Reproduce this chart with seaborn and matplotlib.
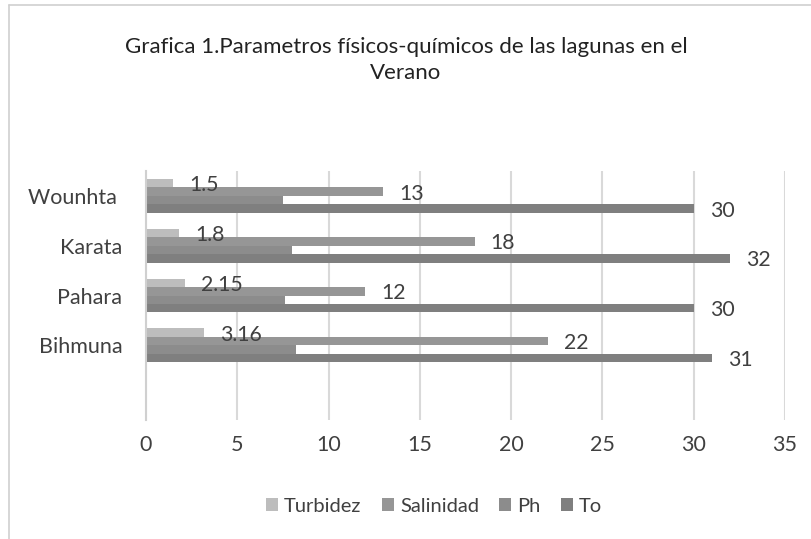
import matplotlib
matplotlib.use("Agg")
import matplotlib.pyplot as plt
import seaborn as sns
import pandas as pd
from matplotlib.lines import Line2D
from matplotlib.patches import Patch

# ---- data ----
lagunas = ["Wounhta ", "Karata", "Pahara", "Bihmuna"]
series = ["Turbidez", "Salinidad", "Ph", "To"]
turbidez = [1.5, 1.8, 2.15, 3.16]
salinidad = [13, 18, 12, 22]
ph = [7.5, 8.0, 7.6, 8.2]
temperatura = [30, 32, 30, 31]
x_ticks = [0, 5, 10, 15, 20, 25, 30, 35]
title = "Grafica 1.Parametros físicos-químicos de las lagunas en el\nVerano"

colors = ["#bdbdbd", "#969696", "#8c8c8c", "#7f7f7f"]
labelled = {"Turbidez": True, "Salinidad": True, "Ph": False, "To": True}

rows = []
for name, vals in zip(series, [turbidez, salinidad, ph, temperatura]):
    for lag, v in zip(lagunas, vals):
        rows.append({"Laguna": lag, "Serie": name, "Valor": v})
df = pd.DataFrame(rows)

sns.set_theme(style="white")
plt.rcParams["font.family"] = ["Lato", "DejaVu Sans"]
text_color = "#404040"

fig = plt.figure(figsize=(8.12, 5.39), dpi=100)
ax = fig.add_axes([146 / 812, 1 - 420 / 539, (785 - 146) / 812, (420 - 171) / 539])

sns.barplot(data=df, y="Laguna", x="Valor", hue="Serie", order=lagunas,
            hue_order=series, palette=colors, orient="h", width=0.68,
            linewidth=0, ax=ax, legend=False)

ax.set_xlim(0, 35)
ax.set_ylim(4.5, -0.5)
ax.set_xticks(x_ticks)
ax.set_xticklabels([str(t) for t in x_ticks])
ax.set_xlabel("")
ax.set_ylabel("")
ax.grid(axis="x", color="#d9d9d9", linewidth=1.5)
ax.grid(axis="y", visible=False)
ax.set_axisbelow(True)
for s in ["top", "right", "bottom"]:
    ax.spines[s].set_visible(False)
ax.spines["left"].set_color("#d0d0d0")
ax.spines["left"].set_linewidth(1.5)
ax.tick_params(axis="x", length=0, pad=11, labelsize=15.5, labelcolor=text_color)
ax.tick_params(axis="y", length=0, pad=17, labelsize=15.5, labelcolor=text_color)

# data labels
for cont, name in zip(ax.containers, series):
    if not labelled[name]:
        continue
    for bar in cont:
        w = bar.get_width()
        yc = bar.get_y() + bar.get_height() / 2
        txt = f"{w:g}"
        ax.annotate(txt, (w, yc), xytext=(16, -2), textcoords="offset pixels",
                    ha="left", va="center", fontsize=15.3, color=text_color)

# title
fig.text(0.5, 1 - 60 / 539, title, ha="center", va="center", fontsize=16,
         color="#222222", linespacing=1.4)

# legend
handles = [Patch(facecolor=c, edgecolor="none") for c in colors]
fig.legend(handles, series, loc="center", bbox_to_anchor=(434 / 812, 1 - 506 / 539),
           ncol=4, frameon=False, fontsize=14.5, handlelength=0.6, handleheight=0.6,
           handletextpad=0.3, columnspacing=1.0, labelcolor=text_color)

# chart border (cropped)
fig.add_artist(Line2D([9 / 812, 9 / 812], [0, 1 - 5 / 539], transform=fig.transFigure,
                      color="#d0d0d0", linewidth=1.2))
fig.add_artist(Line2D([9 / 812, 1], [1 - 5 / 539, 1 - 5 / 539], transform=fig.transFigure,
                      color="#d0d0d0", linewidth=1.2))

fig.savefig("out.png", dpi=100)
